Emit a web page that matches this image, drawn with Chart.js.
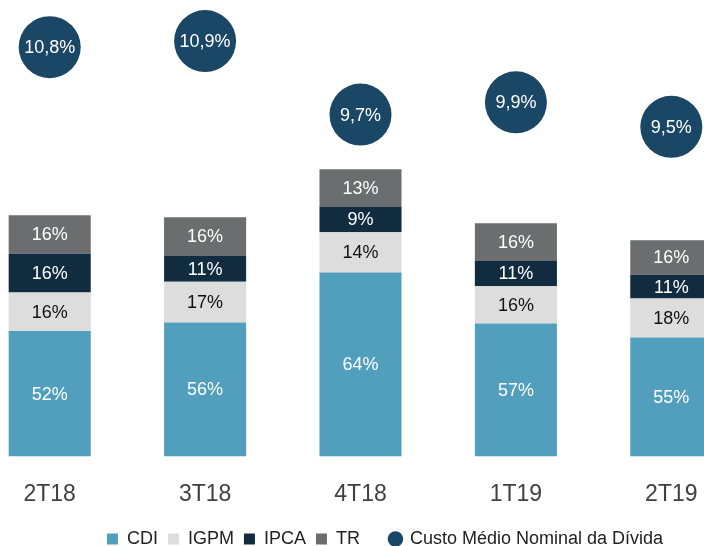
<!DOCTYPE html>
<html>
<head>
<meta charset="utf-8">
<script src="https://cdn.jsdelivr.net/npm/chart.js@4.4.1/dist/chart.umd.min.js"></script>
<style>
    html, body { margin: 0; padding: 0; background: #fff; overflow: hidden; }
    #wrap { position: absolute; left: -28px; top: 0; width: 826px; height: 558px; }
</style>
</head>
<body>
<div id="wrap"><canvas id="debtChart"></canvas></div>
<script>
var quarters = ['2T18', '3T18', '4T18', '1T19', '2T19'];
// relative size of each bar (total debt)
var barTotals = [241, 239, 287, 233, 216];
var cdi = [52, 56, 64, 57, 55];
var igpm = [16, 17, 14, 16, 18];
var ipca = [16, 11, 9, 11, 11];
var tr = [16, 16, 13, 16, 16];
var custoMedio = [10.8, 10.9, 9.7, 9.9, 9.5];

var fontFam = '"Liberation Sans", Arial, sans-serif';

function part(pcts) {
    return pcts.map(function(p, i) { return barTotals[i] * p / 100; });
}

var barLabels = {
    id: 'barLabels',
    afterDatasetsDraw: function(chart) {
        var ctx = chart.ctx;
        ctx.save();
        ctx.textAlign = 'center';
        ctx.textBaseline = 'middle';
        ctx.font = '18px ' + fontFam;
        chart.data.datasets.forEach(function(ds, di) {
            var meta = chart.getDatasetMeta(di);
            meta.data.forEach(function(el, i) {
                var txt, y;
                if (ds.type === 'line') {
                    txt = custoMedio[i].toFixed(1).replace('.', ',') + '%';
                    y = el.y;
                } else {
                    txt = ds.pcts[i] + '%';
                    y = (el.y + el.base) / 2;
                }
                ctx.fillStyle = ds.labelColor;
                ctx.fillText(txt, el.x, y + 1);
            });
        });
        ctx.restore();
    }
};

var ctx = document.getElementById('debtChart').getContext('2d');
var debtChart = new Chart(ctx, {
    data: {
        labels: quarters,
        datasets: [
            { type: 'line', label: 'Custo Médio Nominal da Dívida', data: custoMedio, yAxisID: 'y1',
              showLine: false, pointRadius: 31, pointHoverRadius: 31, pointBackgroundColor: '#1b4767',
              pointBorderWidth: 0, labelColor: '#ffffff', order: 0, clip: false },
            { type: 'bar', label: 'CDI', data: part(cdi), pcts: cdi, backgroundColor: '#519fbd', labelColor: '#ffffff', order: 1 },
            { type: 'bar', label: 'IGPM', data: part(igpm), pcts: igpm, backgroundColor: '#dddddd', labelColor: '#111111', order: 1 },
            { type: 'bar', label: 'IPCA', data: part(ipca), pcts: ipca, backgroundColor: '#112b3f', labelColor: '#ffffff', order: 1 },
            { type: 'bar', label: 'TR', data: part(tr), pcts: tr, backgroundColor: '#6c6d6f', labelColor: '#ffffff', order: 1 }
        ]
    },
    options: {
        responsive: true,
        maintainAspectRatio: false,
        animation: false,
        layout: { padding: 0, autoPadding: false },
        datasets: {
            bar: { categoryPercentage: 1, barPercentage: 0.528, borderWidth: 0 }
        },
        scales: {
            x: {
                stacked: true,
                grid: { display: false, drawTicks: false },
                border: { display: false },
                ticks: {
                    padding: 24,
                    color: '#404040',
                    font: { size: 23, family: fontFam }
                },
                afterFit: function(scale) { scale.height = scale.height - 12; }
            },
            y: {
                stacked: true,
                display: false,
                min: 0,
                max: 456
            },
            y1: {
                position: 'right',
                min: 4.12,
                max: 11.57,
                grid: { display: false, drawTicks: false },
                border: { display: false },
                ticks: { display: false },
                afterFit: function(scale) { scale.width = 49; }
            }
        },
        plugins: {
            legend: {
                position: 'bottom',
                labels: {
                    usePointStyle: true,
                    boxWidth: 11,
                    boxHeight: 11,
                    padding: 10,
                    color: '#222222',
                    font: { size: 18, family: fontFam },
                    generateLabels: function(chart) {
                        var order = [1, 2, 3, 4, 0];
                        return order.map(function(di) {
                            var ds = chart.data.datasets[di];
                            var isLine = ds.type === 'line';
                            var col = isLine ? ds.pointBackgroundColor : ds.backgroundColor;
                            return {
                                // extra room after TR, as in the original legend
                                text: ds.label === 'TR' ? 'TR    ' : ds.label,
                                fillStyle: col,
                                strokeStyle: col,
                                lineWidth: 0,
                                pointStyle: isLine ? 'circle' : 'rect',
                                fontColor: '#222222',
                                datasetIndex: di
                            };
                        });
                    }
                }
            },
            tooltip: { enabled: false }
        }
    },
    plugins: [barLabels]
});
</script>
</body>
</html>
